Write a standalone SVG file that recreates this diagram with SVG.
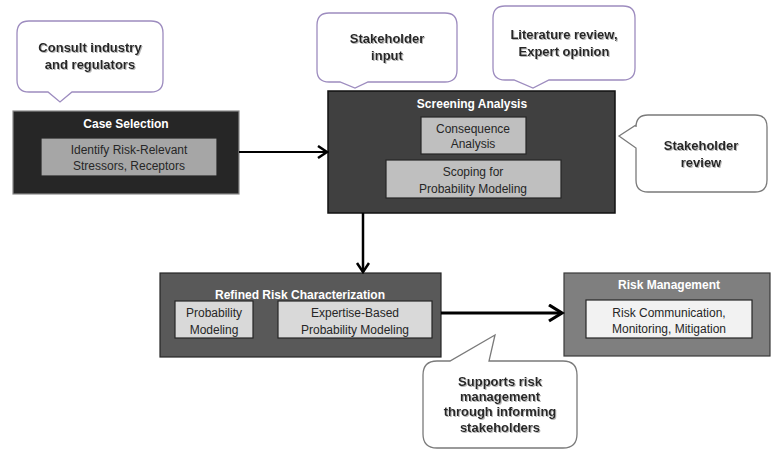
<svg xmlns="http://www.w3.org/2000/svg" width="773" height="449" viewBox="0 0 773 449">
  <defs>
    <marker id="chev" markerUnits="userSpaceOnUse" markerWidth="14" markerHeight="16" refX="11" refY="7" orient="auto">
      <path d="M2,1 L11,7 L2,13" fill="none" stroke="#000" stroke-width="2.5" stroke-linejoin="miter"/>
    </marker>
    <marker id="chevBig" markerUnits="userSpaceOnUse" markerWidth="18" markerHeight="20" refX="15" refY="9" orient="auto">
      <path d="M2,1 L15,9 L2,17" fill="none" stroke="#000" stroke-width="3.2" stroke-linejoin="miter"/>
    </marker>
    <filter id="tshadow" x="-10%" y="-10%" width="130%" height="140%">
      <feDropShadow dx="1" dy="1" stdDeviation="0.6" flood-color="#999" flood-opacity="0.7"/>
    </filter>
  </defs>
  <style>
    .bubble { fill: #fff; stroke-width: 1.3; }
    .purple { stroke: #9d8cbf; }
    .gray { stroke: #7a7a7a; }
    .btext { font-family: "Liberation Sans", Arial, sans-serif; font-weight: bold; font-size: 13px; fill: #262626; text-anchor: middle; filter: url(#tshadow); }
    .title { font-family: "Liberation Sans", Arial, sans-serif; font-weight: bold; font-size: 12px; fill: #fff; text-anchor: middle; }
    .itext { font-family: "Liberation Sans", Arial, sans-serif; font-size: 12px; fill: #262626; text-anchor: middle; }
    .inner { stroke: #262626; stroke-width: 1.2; }
    .conn { fill: none; stroke: #000; }
  </style>
  <rect width="773" height="449" fill="#fff"/>

  <g id="bubble-consult">
    <path class="bubble purple" d="M29,21 H151 Q163,21 163,33 V80 Q163,92 151,92 H72 L60,102 L48,92 H29 Q17,92 17,80 V33 Q17,21 29,21 Z"/>
    <text class="btext" x="90" y="52">Consult industry</text>
    <text class="btext" x="90" y="69">and regulators</text>
  </g>

  <g id="bubble-stakeholder-input">
    <path class="bubble purple" d="M329,13 H445 Q457,13 457,25 V70 Q457,82 445,82 H368 L355,88 L340,82 H329 Q317,82 317,70 V25 Q317,13 329,13 Z"/>
    <text class="btext" x="387" y="43">Stakeholder</text>
    <text class="btext" x="387" y="60">input</text>
  </g>

  <g id="bubble-literature">
    <path class="bubble purple" d="M505,6 H623 Q635,6 635,18 V68 Q635,80 623,80 H549 L533,88 L514,80 H505 Q493,80 493,68 V18 Q493,6 505,6 Z"/>
    <text class="btext" x="564" y="39">Literature review,</text>
    <text class="btext" x="564" y="56">Expert opinion</text>
  </g>

  <g id="bubble-stakeholder-review">
    <path class="bubble gray" d="M648,115 H755 Q767,115 767,127 V180 Q767,192 755,192 H648 Q636,192 636,180 V148 L619,136 L636,125 V127 Q636,115 648,115 Z"/>
    <text class="btext" x="701" y="150">Stakeholder</text>
    <text class="btext" x="701" y="167">review</text>
  </g>

  <g id="bubble-supports">
    <path class="bubble gray" d="M437,361 H450 L495,335 L489,361 H563 Q577,361 577,375 V434 Q577,448 563,448 H437 Q423,448 423,434 V375 Q423,361 437,361 Z"/>
    <text class="btext" x="500" y="386">Supports risk</text>
    <text class="btext" x="500" y="401">management</text>
    <text class="btext" x="500" y="416">through informing</text>
    <text class="btext" x="500" y="432">stakeholders</text>
  </g>

  <g id="case-selection">
    <rect x="13" y="111" width="226" height="83" fill="#262626" stroke="#8a8a8a" stroke-width="1.2"/>
    <text class="title" x="126" y="128">Case Selection</text>
    <rect class="inner" x="41" y="138" width="176" height="38" fill="#a6a6a6"/>
    <text class="itext" x="129" y="154">Identify Risk-Relevant</text>
    <text class="itext" x="129" y="170">Stressors, Receptors</text>
  </g>

  <g id="screening-analysis">
    <rect x="328" y="91" width="287" height="122" fill="#404040" stroke="#111" stroke-width="1.5"/>
    <text class="title" x="472" y="108">Screening Analysis</text>
    <rect class="inner" x="421" y="117" width="105" height="37" fill="#bfbfbf"/>
    <text class="itext" x="473" y="133">Consequence</text>
    <text class="itext" x="473" y="148">Analysis</text>
    <rect class="inner" x="386" y="160" width="175" height="38" fill="#bfbfbf"/>
    <text class="itext" x="473" y="176">Scoping for</text>
    <text class="itext" x="473" y="193">Probability Modeling</text>
  </g>

  <g id="refined-risk">
    <rect x="160" y="273" width="281" height="84" fill="#595959" stroke="#262626" stroke-width="1.2"/>
    <text class="title" x="300" y="299">Refined Risk Characterization</text>
    <rect class="inner" x="175" y="301" width="78" height="37" fill="#d9d9d9"/>
    <text class="itext" x="214" y="317">Probability</text>
    <text class="itext" x="214" y="334">Modeling</text>
    <rect class="inner" x="278" y="301" width="154" height="37" fill="#d9d9d9"/>
    <text class="itext" x="355" y="317">Expertise-Based</text>
    <text class="itext" x="355" y="334">Probability Modeling</text>
  </g>

  <g id="risk-management">
    <rect x="564" y="273" width="206" height="83" fill="#7f7f7f" stroke="#3a3a3a" stroke-width="1.2"/>
    <text class="title" x="669" y="289">Risk Management</text>
    <rect class="inner" x="586" y="300" width="166" height="38" fill="#f2f2f2"/>
    <text class="itext" x="669" y="317">Risk Communication,</text>
    <text class="itext" x="669" y="333">Monitoring, Mitigation</text>
  </g>

  <g id="connectors">
    <line class="conn" x1="239" y1="152" x2="327" y2="152" stroke-width="2" marker-end="url(#chev)"/>
    <line class="conn" x1="363" y1="213" x2="363" y2="272" stroke-width="2.5" marker-end="url(#chev)"/>
    <line class="conn" x1="441" y1="313" x2="562" y2="313" stroke-width="3.2" marker-end="url(#chevBig)"/>
  </g>
</svg>
